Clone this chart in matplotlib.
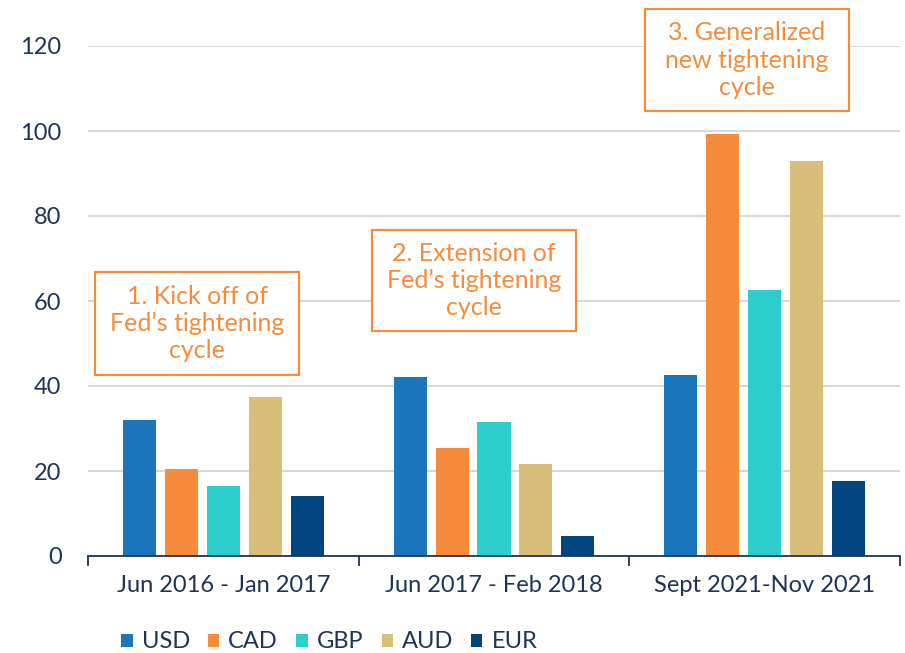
import matplotlib
matplotlib.use("Agg")
import matplotlib.pyplot as plt
from matplotlib.patches import Rectangle
from matplotlib.ticker import FixedLocator
import numpy as np

categories = ["Jun 2016 - Jan 2017", "Jun 2017 - Feb 2018", "Sept 2021-Nov 2021"]
series_names = ["USD", "CAD", "GBP", "AUD", "EUR"]
USD = [32.0, 42.1, 42.5]
CAD = [20.4, 25.3, 99.2]
GBP = [16.5, 31.5, 62.7]
AUD = [37.3, 21.6, 92.9]
EUR = [14.2, 4.8, 17.7]
series_values = [USD, CAD, GBP, AUD, EUR]
colors = ["#1B75BB", "#F68B3C", "#2ECDCD", "#D8BE78", "#00457F"]
yticks = [0, 20, 40, 60, 80, 100, 120]
annotations = ["1. Kick off of\nFed\u2019s tightening\ncycle",
               "2. Extension of\nFed\u2019s tightening\ncycle",
               "3. Generalized\nnew tightening\ncycle"]

navy = "#1D3358"
orange = "#F68B3C"

fig = plt.figure(figsize=(9.05, 6.53), dpi=100)
ax = fig.add_axes([88/905, 1-556/653, (900-88)/905, (556-46)/653])

x = np.arange(len(categories))
width = 0.122
step = 0.155
for i, (name, vals, c) in enumerate(zip(series_names, series_values, colors)):
    ax.bar(x + (i-2)*step, vals, width, color=c, label=name, zorder=3)

ax.set_xlim(-0.5, 2.5)
ax.set_ylim(0, 120)
ax.set_yticks(yticks)
ax.set_xticks(x)
ax.set_xticklabels(categories)
ax.xaxis.set_minor_locator(FixedLocator([-0.5, 0.5, 1.5, 2.5]))
ax.tick_params(axis='x', which='major', length=0, pad=14, labelsize=17, labelcolor=navy)
ax.tick_params(axis='x', which='minor', length=7, width=1.3, color=navy)
ax.tick_params(axis='y', length=0, pad=19, labelsize=17, labelcolor=navy)
for lab in ax.get_xticklabels() + ax.get_yticklabels():
    lab.set_family("Lato")
ax.grid(axis='y', color="#D9D9D9", linewidth=1.5, zorder=0)
for s in ["top", "right", "left"]:
    ax.spines[s].set_visible(False)
ax.spines["bottom"].set_color(navy)
ax.spines["bottom"].set_linewidth(1.3)
ax.spines["bottom"].set_zorder(4)

def px2data(px, py):
    return (px-88)/((900-88)/3.0)-0.5, (556-py)/4.25

boxes = [(95, 272, 299, 375), (372, 230, 576, 331), (645, 9, 849, 111)]
for (l, t, r, b), txt in zip(boxes, annotations):
    x0, y0 = px2data(l, b)
    x1, y1 = px2data(r, t)
    rect = Rectangle((x0, y0), x1-x0, y1-y0, facecolor="white", edgecolor=orange,
                     linewidth=1.6, zorder=5, clip_on=False)
    ax.add_patch(rect)
    ax.text((x0+x1)/2, (y0+y1)/2, txt, ha="center", va="center", color=orange,
            fontsize=18, family="Lato", linespacing=1.22, zorder=6, clip_on=False)

fig.legend(loc="center left", bbox_to_anchor=(112/905, 1-642/653), ncol=5, frameon=False,
           handlelength=0.47, handleheight=0.47, handletextpad=0.38, columnspacing=0.78,
           prop={"family": "Lato", "size": 17}, labelcolor=navy, borderaxespad=0)

fig.savefig("out.png", dpi=100)
